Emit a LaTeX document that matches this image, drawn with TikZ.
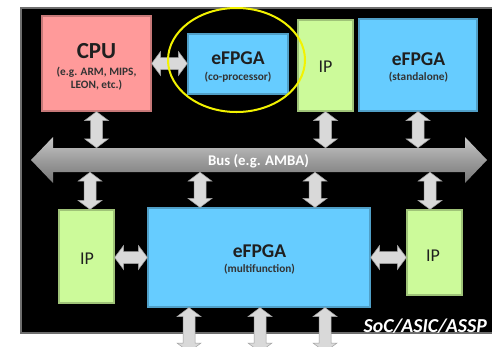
\documentclass[tikz,border=0pt]{standalone}
\usepackage{fontspec}
\setmainfont{Carlito}
\usetikzlibrary{calc}
\definecolor{cpuc}{HTML}{FF9A9A}
\definecolor{fpgac}{HTML}{66CCFF}
\definecolor{ipc}{HTML}{CCFA9A}
\definecolor{arrc}{HTML}{D9D9D9}
\definecolor{arrl}{HTML}{A0A0A0}
\definecolor{framec}{HTML}{6E6E6E}
\definecolor{hlc}{HTML}{F2F200}
\definecolor{busT}{HTML}{C8C8C8}
\definecolor{busM}{HTML}{9C9C9C}
\definecolor{busB}{HTML}{767676}
\begin{document}
\begin{tikzpicture}[x=1pt,y=-1pt,
  blk/.style={draw=#1!78!black, line width=1.2pt, fill=#1, inner sep=0pt},
  ttl/.style={font=\fontsize{19.5}{21}\selectfont\bfseries, text=black!88, inner sep=0pt, anchor=base},
  subt/.style={font=\fontsize{11.3}{13}\selectfont\bfseries, text=black!80, inner sep=0pt, anchor=base},
  iptxt/.style={font=\fontsize{18}{20}\selectfont, text=black!88, inner sep=0pt, anchor=base},
  bustxt/.style={font=\fontsize{14.8}{16}\selectfont\bfseries, text=white, inner sep=0pt, anchor=base},
  soctxt/.style={font=\fontsize{19.8}{21}\selectfont\bfseries\itshape, text=white, inner sep=0pt, anchor=base east},
  dbl/.style={fill=arrc, draw=arrl, line width=0.5pt, line join=miter,
    to path={
      ($(\tikztostart)!9pt!(\tikztotarget)$) coordinate (dA)
      ($(\tikztotarget)!9pt!(\tikztostart)$) coordinate (dB)
      (\tikztostart) -- ($(dA)!12pt!90:(\tikztotarget)$) -- ($(dA)!6pt!90:(\tikztotarget)$)
      -- ($(dB)!6pt!-90:(\tikztostart)$) -- ($(dB)!12pt!-90:(\tikztostart)$) -- (\tikztotarget)
      -- ($(dB)!12pt!90:(\tikztostart)$) -- ($(dB)!6pt!90:(\tikztostart)$)
      -- ($(dA)!6pt!-90:(\tikztotarget)$) -- ($(dA)!12pt!-90:(\tikztotarget)$) -- cycle
    }},
]
\useasboundingbox (0,0) rectangle (492,346);
\begin{scope}
\clip (0,0) rectangle (492,346);
\fill[white] (0,0) rectangle (492,346);
% background board
\draw[framec, line width=2pt, fill=black] (21,8) rectangle (510,333);
% bus
\shade[top color=busT, bottom color=busB, middle color=busM]
  (31,160) -- (53,137) -- (53,148) -- (465,148) -- (465,137) -- (487,160)
  -- (465,183) -- (465,172) -- (53,172) -- (53,183) -- cycle;
\node[inner sep=0pt, minimum width=412pt, minimum height=24pt] (bus) at (259,160) {};
% blocks
\node[blk=cpuc, minimum width=109pt, minimum height=95pt] (cpu) at (96.5,63.5) {};
\node[blk=fpgac, minimum width=100pt, minimum height=60pt] (cop) at (238,64) {};
\node[blk=ipc, minimum width=55pt, minimum height=91pt] (ipt) at (325.5,65.5) {};
\node[blk=fpgac, minimum width=118pt, minimum height=92pt] (std) at (418,65) {};
\node[blk=ipc, minimum width=55pt, minimum height=93pt] (ipl) at (86.5,256.5) {};
\node[blk=fpgac, minimum width=222pt, minimum height=99pt] (mf) at (259,257.5) {};
\node[blk=ipc, minimum width=55pt, minimum height=85pt] (ipr) at (434.5,252.5) {};
% helper x positions
\coordinate (a1) at (90,0);
\coordinate (a2) at (200,0);
\coordinate (a3) at (315,0);
\coordinate (a4) at (430,0);
\coordinate (b1) at (189,352);
\coordinate (b2) at (260,352);
\coordinate (b3) at (325,352);
% connectors
\draw[dbl] (cpu.east) to (cpu.east -| cop.west);
\draw[dbl] (cpu.south) to (cpu.south |- bus.north);
\draw[dbl] (ipt.south) to (ipt.south |- bus.north);
\draw[dbl] (std.south) to (std.south |- bus.north);
\draw[dbl] (bus.south -| a1) to (ipl.north -| a1);
\draw[dbl] (bus.south -| a2) to (mf.north -| a2);
\draw[dbl] (bus.south -| a3) to (mf.north -| a3);
\draw[dbl] (bus.south -| a4) to (ipr.north -| a4);
\draw[dbl] (mf.west -| ipl.east) to (mf.west);
\draw[dbl] (mf.east) to (mf.east -| ipr.west);
\draw[dbl] (mf.south -| b1) to (b1);
\draw[dbl] (mf.south -| b2) to (b2);
\draw[dbl] (mf.south -| b3) to (b3);
% highlight
\draw[hlc, line width=2pt] (236.5,60) ellipse [x radius=68.5pt, y radius=52pt];
% texts
\node[ttl, font=\fontsize{23}{25}\selectfont\bfseries] (cpu-t) at (96.5,58) {CPU};
\node[subt] (cpu-s1) at (96.5,75) {(e.g. ARM, MIPS,};
\node[subt] (cpu-s2) at (96.5,88) {LEON, etc.)};
\node[ttl] (cop-t) at (238,64) {eFPGA};
\node[subt] (cop-s) at (238,80) {(co-processor)};
\node[iptxt] (ipt-t) at (325.5,72) {IP};
\node[ttl] (std-t) at (418.5,65) {eFPGA};
\node[subt] (std-s) at (418.5,80) {(standalone)};
\node[iptxt] (ipl-t) at (87,264) {IP};
\node[ttl] (mf-t) at (259.5,257) {eFPGA};
\node[subt] (mf-s) at (259.5,272) {(multifunction)};
\node[iptxt] (ipr-t) at (433,261) {IP};
\node[bustxt] (bus-t) at (258.5,165) {Bus (e.g. AMBA)};
\node[soctxt] (soc) at (487,332) {SoC/ASIC/ASSP};
\end{scope}
\end{tikzpicture}
\end{document}
